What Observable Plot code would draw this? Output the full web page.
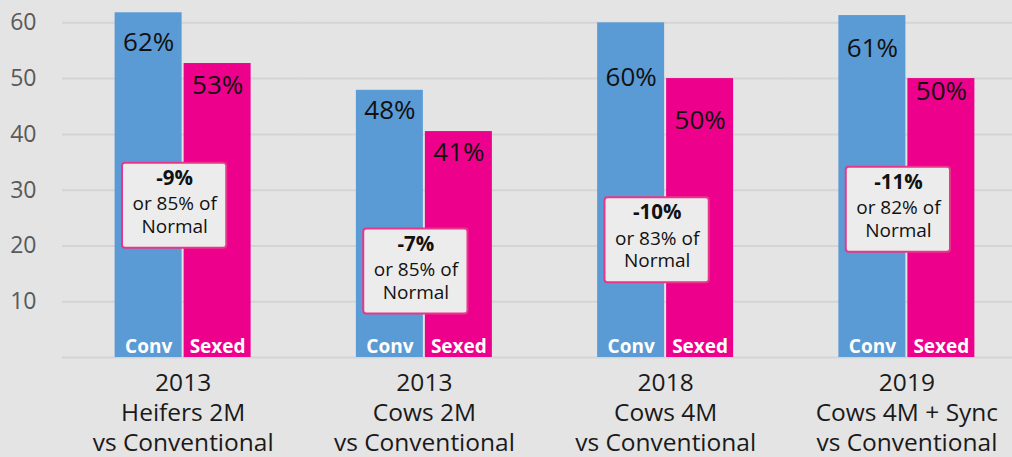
<!DOCTYPE html>
<html><head><meta charset="utf-8">
<script src="https://cdn.jsdelivr.net/npm/d3@7"></script>
<script src="https://cdn.jsdelivr.net/npm/@observablehq/plot@0.6"></script>
<style>
html,body{margin:0;padding:0;background:#e4e4e4;overflow:hidden;}
</style></head><body><div id="chart"></div>
<script>
const groups = ["2013\nHeifers 2M\nvs Conventional", "2013\nCows 2M\nvs Conventional", "2018\nCows 4M\nvs Conventional", "2019\nCows 4M + Sync\nvs Conventional"];
const series = ["Conv", "Sexed"];
const convValues = [61.8, 47.9, 60.0, 61.3];
const sexedValues = [52.7, 40.5, 50.0, 50.0];
const convLabelY = [56.4, 44.3, 50.1, 55.3];
const sexedLabelY = [48.7, 36.8, 42.5, 47.7];
const diffLabels = ["-9%", "-7%", "-10%", "-11%"];
const ratioLabels = ["or 85% of", "or 85% of", "or 83% of", "or 82% of"];
const normalLabel = "Normal";
const boxY = [27.2, 15.4, 21.0, 26.5];
const yTicks = [10, 20, 30, 40, 50, 60];

const bars = groups.flatMap((g, i) => [
  {group: g, series: "Conv", value: convValues[i], labelY: convLabelY[i]},
  {group: g, series: "Sexed", value: sexedValues[i], labelY: sexedLabelY[i]}
]);
const boxes = groups.map((g, i) => ({group: g, y: boxY[i], diff: diffLabels[i], ratio: ratioLabels[i]}));

const chart = Plot.plot({
  width: 1012, height: 457,
  marginLeft: 62, marginRight: -15, marginTop: 0, marginBottom: 100,
  style: {background: "#e4e4e4", fontFamily: "'Open Sans', sans-serif", fontSize: "23px", color: "#595959", overflow: "hidden"},
  fx: {domain: groups, padding: 0, axis: null, round: false},
  x: {domain: series, paddingInner: 0.029, paddingOuter: 0.7627, axis: null, round: false},
  y: {domain: [0, 64], ticks: yTicks, tickSize: 0, tickPadding: 26, label: null},
  color: {domain: series, range: ["#5b9bd5", "#ec008c"]},
  marks: [
    Plot.ruleY(yTicks, {stroke: "#d4d4d4", strokeWidth: 2}),
    Plot.ruleY([0], {stroke: "#d4d4d4", strokeWidth: 2}),
    Plot.barY(bars, {fx: "group", x: "series", y: "value", fill: "series"}),
    Plot.text(bars, {fx: "group", x: "series", y: "labelY", text: d => Math.round(d.value) + "%", fontSize: 26, fill: "#111"}),
    Plot.text(bars, {fx: "group", x: "series", frameAnchor: "bottom", lineAnchor: "bottom", dy: -5, text: "series", fill: "white", fontWeight: "bold", fontSize: 19}),
    Plot.rect(boxes, {fx: "group", y1: "y", y2: "y", insetTop: -42.5, insetBottom: -42.5, insetLeft: 60, insetRight: 77, fill: "#ececec", stroke: "#e8378a", strokeWidth: 2, rx: 3}),
    Plot.text(boxes, {fx: "group", y: "y", dx: -8.5, dy: -27.5, text: "diff", fontWeight: "bold", fontSize: 20.5, fill: "#111"}),
    Plot.text(boxes, {fx: "group", y: "y", dx: -8.5, dy: -1.5, text: "ratio", fontSize: 19, fill: "#111"}),
    Plot.text(boxes, {fx: "group", y: "y", dx: -8.5, dy: 21, text: () => normalLabel, fontSize: 19, fill: "#111"}),
    Plot.text(groups, {fx: d => d, text: d => d, frameAnchor: "bottom", lineAnchor: "top", dy: 12, fontSize: 24.5, lineHeight: 1.23, fill: "#1a1a1a"})
  ]
});
document.getElementById("chart").appendChild(chart);
</script>
</body></html>
